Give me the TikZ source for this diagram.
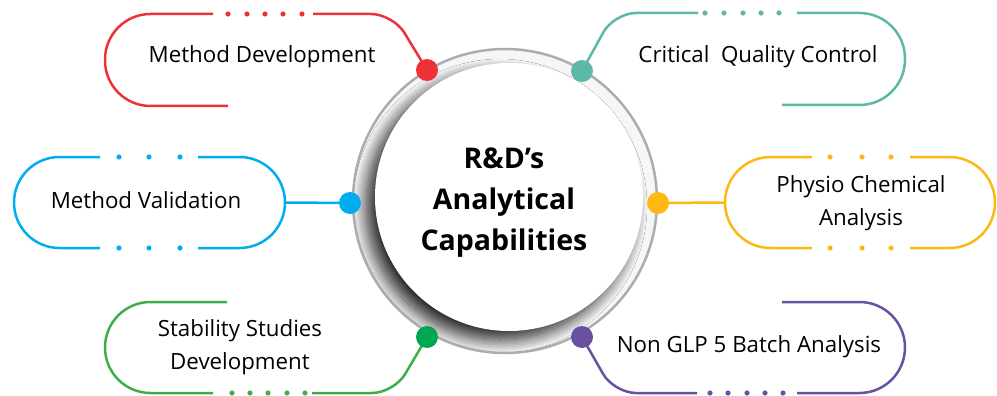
\documentclass[tikz,border=0pt]{standalone}
\usepackage{fontspec}
\setmainfont{Open Sans}
\usetikzlibrary{shadows.blur}

\definecolor{mdred}{HTML}{EE3136}
\definecolor{cqteal}{HTML}{5CB8A7}
\definecolor{mvblue}{HTML}{00AEEF}
\definecolor{pcyellow}{HTML}{FDB813}
\definecolor{ssgreen}{HTML}{3DAE4A}
\definecolor{ssdot}{HTML}{00A651}
\definecolor{nbpurple}{HTML}{6A50A2}
\definecolor{ringgray}{HTML}{ADADB1}

\tikzset{
  pill/.style={line width=2.5pt, rounded corners=45.5pt},
  elbow/.style={line width=2.5pt, rounded corners=22pt},
  hub/.style={circle, minimum size=22pt, inner sep=0pt},
  itemtext/.style={font=\fontsize{22.3}{33}\selectfont, align=center, inner sep=0pt}
}

\begin{document}
\begin{tikzpicture}[x=1pt,y=-1pt]
		\useasboundingbox (0,0) rectangle (997,396);
        % centre ring
		\draw[ringgray, line width=2.5pt, fill=gray!7] (505,201) coordinate (ringc) circle (152pt);
        \begin{scope}
            \clip (ringc) circle (151pt);
            \node[circle, minimum size=268pt, fill=white, blur shadow={shadow xshift=-9pt, shadow yshift=-9pt, shadow blur radius=13pt, shadow blur steps=18, shadow opacity=85}] (hub) at (509,197) {};
        \end{scope}
        \node[font=\bfseries\fontsize{28.5}{41}\selectfont, align=center] (hubtext) at (504,203) {R\&D's\\Analytical\\Capabilities};
        \coordinate (mdhub) at (427,70);
        \coordinate (cqhub) at (582,71);
        \coordinate (mvhub) at (350,203);
        \coordinate (pchub) at (658,203);
        \coordinate (sshub) at (427,337);
        \coordinate (nbhub) at (582,337);
        % Method Development
        \node[itemtext] (mdtext) at (262,57) {Method Development};
        \draw[pill, mdred] (213,14) -- (105,14) -- (105,106) -- (228,106);
        \draw[elbow, mdred] (313,14) -- (393,14) -- (mdhub);
        \foreach \x in {228,247,265,283,302} \fill[mdred] (\x,14) circle (2.6pt);
        % Critical Quality Control
        \node[itemtext] (cqtext) at (758,57) {Critical\ \ Quality Control};
        \draw[elbow, cqteal] (cqhub) -- (614,13) -- (698,13);
        \draw[pill, cqteal] (797,13) -- (905,13) -- (905,105) -- (782,105);
        \foreach \x in {705,724,743,761,779} \fill[cqteal] (\x,13) circle (2.6pt);
        % Method Validation
        \node[itemtext] (mvtext) at (146,200) {Method Validation};
        \draw[pill, mvblue] (100,157) -- (14,157) -- (14,248) -- (100,248);
        \draw[pill, mvblue] (198,157) -- (285,157) -- (285,248) -- (198,248);
        \coordinate (mvedge) at (285,202.5);
        \draw[mvblue, line width=2.5pt] (mvedge) -- (mvhub);
        \foreach \x in {119,149,180} {
            \fill[mvblue] (\x,157) circle (2.6pt);
            \fill[mvblue] (\x,248) circle (2.6pt);
        }
        % Physio Chemical Analysis
        \node[itemtext] (pctext) at (861,203) {Physio Chemical\\Analysis};
        \draw[pill, pcyellow] (812,157) -- (725,157) -- (725,248) -- (812,248);
        \draw[pill, pcyellow] (910,157) -- (995,157) -- (995,248) -- (910,248);
        \coordinate (pcedge) at (725,202.5);
        \draw[pcyellow, line width=2.5pt] (pcedge) -- (pchub);
        \foreach \x in {830,862,891} {
            \fill[pcyellow] (\x,157) circle (2.6pt);
            \fill[pcyellow] (\x,248) circle (2.6pt);
        }
        % Stability Studies Development
        \node[itemtext] (sstext) at (240,347) {Stability Studies\\Development};
        \draw[pill, ssgreen] (227,302) -- (105,302) -- (105,393) -- (213,393);
        \draw[elbow, ssgreen] (312,393) -- (394,393) -- (sshub);
        \foreach \x in {232,250,268,287,305} \fill[ssgreen] (\x,393) circle (2.6pt);
        % Non GLP 5 Batch Analysis
        \node[itemtext] (nbtext) at (749,347) {Non GLP 5 Batch Analysis};
        \draw[pill, nbpurple] (782,302) -- (905,302) -- (905,393) -- (797,393);
        \draw[elbow, nbpurple] (697,393) -- (614,393) -- (nbhub);
        \foreach \x in {710,728,747,765,783} \fill[nbpurple] (\x,393) circle (2.6pt);
        % hub dots
        \node[hub, fill=mdred] (mddot) at (mdhub) {};
        \node[hub, fill=cqteal] (cqdot) at (cqhub) {};
        \node[hub, fill=mvblue] (mvdot) at (mvhub) {};
        \node[hub, fill=pcyellow] (pcdot) at (pchub) {};
        \node[hub, fill=ssdot] (ssdot) at (sshub) {};
        \node[hub, fill=nbpurple] (nbdot) at (nbhub) {};
	\end{tikzpicture}
\end{document}
